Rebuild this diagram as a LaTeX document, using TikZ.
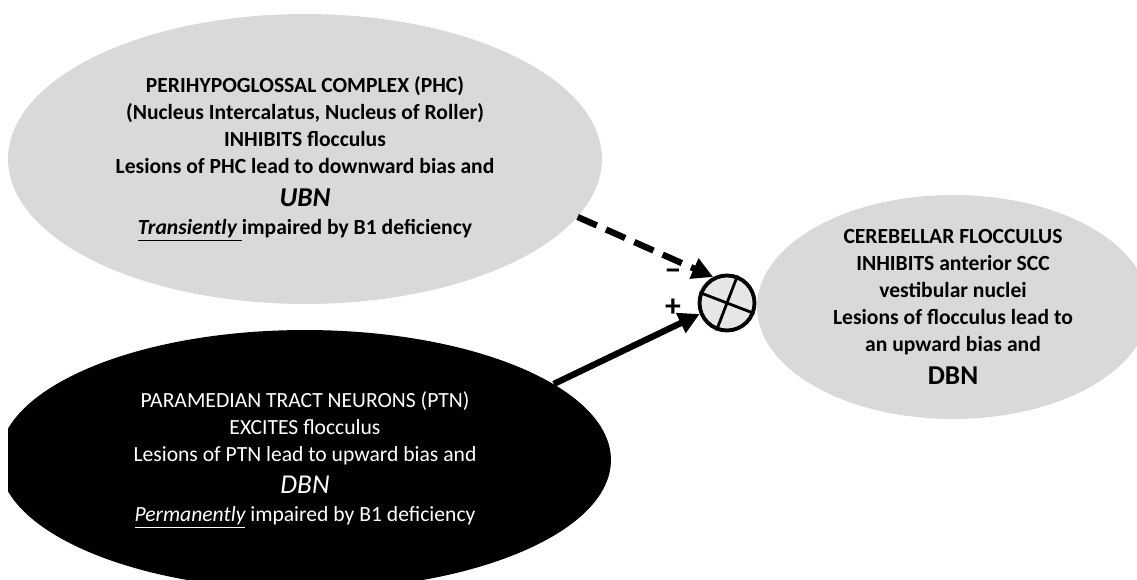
\documentclass[tikz,border=0pt]{standalone}
\usepackage{fontspec}
\setmainfont{Carlito}
\usetikzlibrary{arrows.meta,shapes.geometric,positioning}
\definecolor{ovalgrey}{HTML}{D9D9D9}
\definecolor{sumgrey}{HTML}{E6E6E6}
\newcommand{\bigtxt}{\fontsize{15.5}{18}\selectfont}

\begin{document}
\begin{tikzpicture}[x=0.02cm,y=-0.02cm]
	\useasboundingbox (0,0) rectangle (1137,580);
	\clip (8,0) rectangle (1137,580);

	\begin{scope}[every node/.style={ellipse,inner sep=0pt,align=center,
		font=\fontsize{12.3}{15.4}\selectfont\bfseries}]
		\node[fill=ovalgrey,minimum width=11.88cm,minimum height=5.8cm] (phc) at (305,159)
			{PERIHYPOGLOSSAL COMPLEX (PHC)\\
			 (Nucleus Intercalatus, Nucleus of Roller)\\
			 INHIBITS flocculus\\
			 Lesions of PHC lead to downward bias and\\[3.5pt]
			 {\bigtxt\itshape UBN}\\[0.5pt]
			 \underline{\itshape Transiently\ }impaired by B1 deficiency};
		\node[fill=black,text=white,font=\fontsize{12.3}{15.4}\selectfont,
			minimum width=12.24cm,minimum height=5.2cm] (ptn) at (305,460)
			{PARAMEDIAN TRACT NEURONS (PTN)\\
			 EXCITES flocculus\\
			 Lesions of PTN lead to upward bias and\\[2.5pt]
			 {\bigtxt\itshape DBN}\\[0.5pt]
			 \underline{\itshape Permanently} impaired by B1 deficiency};
		\node[fill=ovalgrey,minimum width=7.84cm,minimum height=4.48cm] (floc) at (953,307)
			{CEREBELLAR FLOCCULUS\\
			 INHIBITS anterior SCC\\
			 vestibular nuclei\\
			 Lesions of flocculus lead to\\
			 an upward bias and\\[3.5pt]
			 {\bigtxt DBN}};
	\end{scope}

	% summing junction
	\node[circle,draw,line width=2.2pt,fill=sumgrey,minimum size=1.1cm,inner sep=0pt] (sum) at (727,303) {};
	\draw[line width=1.6pt] (sum.69) -- (sum.249) (sum.159) -- (sum.-21);

	\node[font=\fontsize{18}{18}\selectfont\bfseries,inner sep=0pt] (minus) at (673,275) {−};
	\node[font=\fontsize{18}{18}\selectfont\bfseries,inner sep=0pt] (plus) at (673,308) {+};

	\begin{scope}[line width=3.6pt,>={Triangle[length=0.42cm,width=0.42cm]}]
		\path (phc.-12) edge[draw,dash pattern=on 0.42cm off 0.2cm,->] (sum.118);
		\path (ptn.17) edge[draw,->] (sum.202);
	\end{scope}
\end{tikzpicture}
\end{document}
